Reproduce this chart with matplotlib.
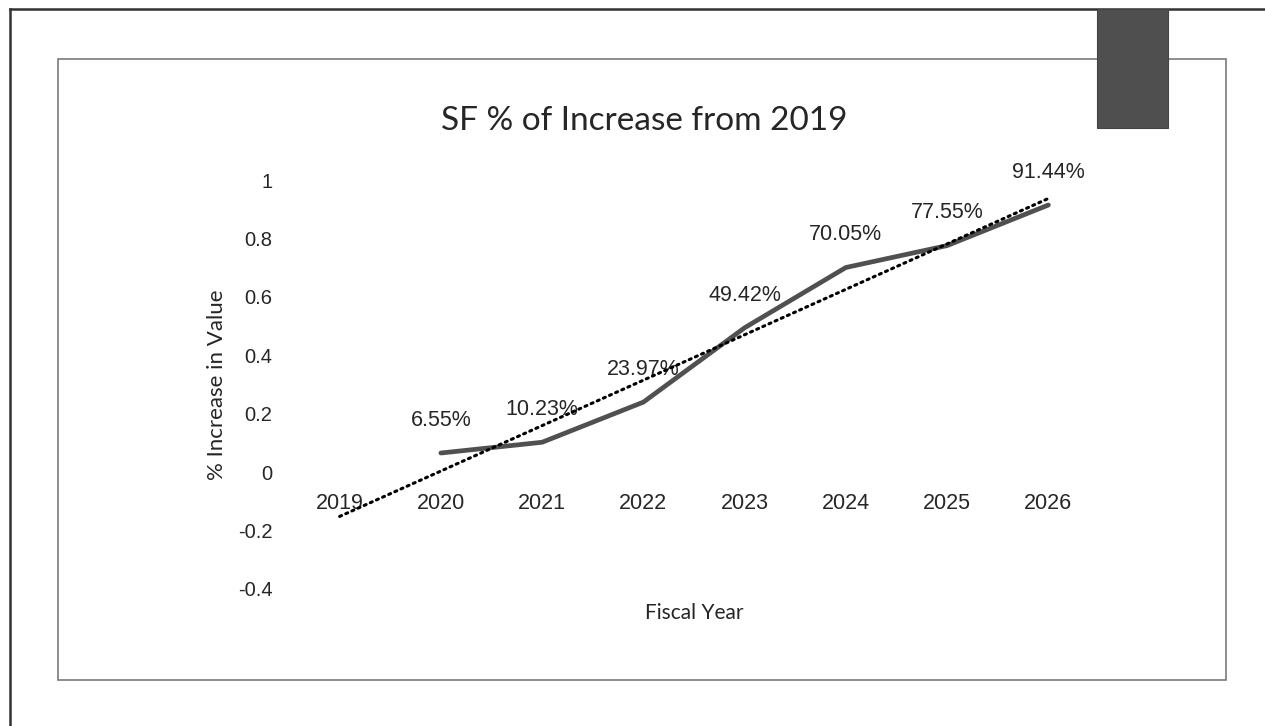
import numpy as np
import matplotlib
matplotlib.use("Agg")
import matplotlib.pyplot as plt
from matplotlib.patches import Rectangle
from matplotlib.lines import Line2D

# data (2019 is the base year, no value plotted)
years = ["2019", "2020", "2021", "2022", "2023", "2024", "2025", "2026"]
pct_increase = [np.nan, 0.0655, 0.1023, 0.2397, 0.4942, 0.7005, 0.7755, 0.9144]
value_labels = ["", "6.55%", "10.23%", "23.97%", "49.42%", "70.05%", "77.55%", "91.44%"]
y_ticks = [-0.4, -0.2, 0, 0.2, 0.4, 0.6, 0.8, 1]
y_tick_labels = ["-0.4", "-0.2", "0", "0.2", "0.4", "0.6", "0.8", "1"]

W, H = 1265, 726
fig = plt.figure(figsize=(W / 100, H / 100), dpi=100)

# page frame and chart box (drawn in pixel coords of the figure)
def px_line(x0, y0, x1, y1, **kw):
    fig.add_artist(Line2D([x0 / W, x1 / W], [1 - y0 / H, 1 - y1 / H],
                          transform=fig.transFigure, **kw))

px_line(10, 9, W, 9, color="#333333", lw=1.8)
px_line(10, 9, 10, H, color="#333333", lw=1.8)
fig.add_artist(Rectangle((58 / W, 1 - 680 / H), (1226 - 58) / W, (680 - 59) / H,
                         transform=fig.transFigure, fill=False,
                         edgecolor="#7a7a7a", lw=1.2))
fig.add_artist(Rectangle((1097 / W, 1 - 128 / H), (1168 - 1097) / W, (128 - 9) / H,
                         transform=fig.transFigure, facecolor="#4f4f4f",
                         edgecolor="#444444", lw=0.8, zorder=5))

ax = fig.add_axes([289 / W, 1 - 589 / H, (1099 - 289) / W, (589 - 180) / H])
# category axis crosses at 0, like the original
ax.spines["bottom"].set_position(("data", 0))

x = np.arange(len(years))
y = np.array(pct_increase)

ax.plot(x, y, color="#505050", lw=3.4, solid_capstyle="round", zorder=3)

# linear trendline over the plotted points, extended across all categories
mask = ~np.isnan(y)
coef = np.polyfit(x[mask], y[mask], 1)
ax.plot(x, np.polyval(coef, x), color="black", lw=2.2,
        linestyle=(0, (0.7, 1.5)), dash_capstyle="round", zorder=4)

for xi, yi, lab in zip(x, y, value_labels):
    if lab:
        ax.annotate(lab, (xi, yi), xytext=(0, 23.5), textcoords="offset points",
                    ha="center", va="center", fontsize=15.5,
                    family="Liberation Sans", color="#262626", clip_on=False)

ax.set_xlim(-0.5, len(years) - 0.5)
ax.set_ylim(-0.4, 1.0)
ax.set_yticks(y_ticks)
ax.set_yticklabels(y_tick_labels, family="Liberation Sans", fontsize=14.5, color="#262626")
ax.set_xticks(x)
ax.set_xticklabels(years, family="Liberation Sans", fontsize=15.5, color="#262626")
for s in ax.spines.values():
    s.set_visible(False)
ax.tick_params(axis="x", length=0, pad=15)
ax.tick_params(axis="y", length=0, pad=12)
ax.patch.set_alpha(0)

ax.set_ylabel("% Increase in Value", family="Lato", fontsize=16, color="#262626", labelpad=8)
fig.text(694 / W, 1 - 613 / H, "Fiscal Year", family="Lato", fontsize=15,
         color="#262626", ha="center", va="center")
fig.text(644 / W, 1 - 121 / H, "SF % of Increase from 2019", family="Lato",
         fontsize=24, color="#262626", ha="center", va="center")

fig.savefig("out.png", dpi=100)
